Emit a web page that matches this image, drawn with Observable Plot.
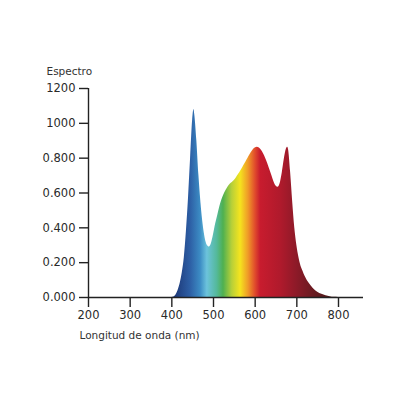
<!DOCTYPE html>
<html>
<head>
<meta charset="utf-8">
<script src="https://cdn.jsdelivr.net/npm/d3@7"></script>
<script src="https://cdn.jsdelivr.net/npm/@observablehq/plot@0.6"></script>
<style>
  html, body { margin: 0; padding: 0; background: #fff; }
  #chart { width: 400px; height: 400px; }
</style>
</head>
<body>
<div id="chart"></div>
<script>
// Data: wavelength (nm) and relative spectral intensity
const wavelengths = [400,405,410,415,420,425,430,435,440,445,450,453,455,460,465,470,475,480,485,490,495,500,505,510,515,520,525,530,535,540,545,550,555,560,565,570,575,580,585,590,595,600,605,610,615,620,625,630,635,640,645,650,655,660,665,670,675,678,680,685,690,695,700,705,710,715,720,730,740,750,760,770,780,790,800];
const intensity  = [0,0.003,0.015,0.04,0.08,0.14,0.23,0.38,0.57,0.80,1.02,1.08,1.05,0.90,0.70,0.54,0.42,0.34,0.30,0.29,0.31,0.36,0.42,0.47,0.52,0.56,0.59,0.615,0.635,0.65,0.66,0.672,0.688,0.706,0.725,0.745,0.766,0.788,0.81,0.83,0.847,0.858,0.862,0.858,0.845,0.825,0.80,0.77,0.735,0.70,0.665,0.64,0.633,0.655,0.715,0.795,0.852,0.862,0.85,0.72,0.55,0.40,0.30,0.23,0.18,0.15,0.12,0.08,0.05,0.03,0.018,0.01,0.005,0.001,0];

const xTicks = [200,300,400,500,600,700,800];
const yTicks = [0,0.2,0.4,0.6,0.8,1.0,1.2];
const yTickLabels = ["0.000","0.200","0.400","0.600","0.800","1000","1200"];

const yTitle = "Espectro";
const xTitle = "Longitud de onda (nm)";

// Gradient stops (wavelength -> colour)
const stopNm = [410,445,469,485,509,524,545,565,584,601,613,661,701,740,781];
const stopColor = ["#1e3a7a","#2d5fa5","#3c8cc4","#6cc3dc","#54b99a","#4fb050","#b8d038","#f5e41e","#ef9a28","#e04a2c","#c81c2e","#b01a2c","#8c1a28","#6a1a20","#4e1a1a"];

const data = wavelengths.map((w, i) => ({nm: w, v: intensity[i]}));

const chart = Plot.plot({
  width: 400,
  height: 400,
  marginLeft: 88,
  marginRight: 37,
  marginTop: 88,
  marginBottom: 103,
  style: {fontFamily: "DejaVu Sans", fontSize: "11px", color: "#2a2a2a", background: "#fff"},
  x: {domain: [200, 860]},
  y: {domain: [0, 1.2]},
  marks: [
    Plot.areaY(data, {x: "nm", y: "v", curve: "monotone-x", fill: "url(#specgrad)"}),
    Plot.axisX({ticks: xTicks, tickSize: 10, tickPadding: 3, label: null, stroke: "#222", strokeWidth: 1.4, fontSize: 11.5}),
    Plot.axisY({ticks: yTicks, tickFormat: (d, i) => yTickLabels[i], tickSize: 9, tickPadding: 4, label: null, stroke: "#222", strokeWidth: 1.4, fontSize: 11.5}),
    Plot.ruleY([0], {stroke: "#222", strokeWidth: 1.4}),
    Plot.ruleX([200], {stroke: "#222", strokeWidth: 1.4}),
    Plot.text([xTitle], {frameAnchor: "bottom-left", dx: -9, dy: 41, textAnchor: "start", fontSize: 10.5, fill: "#333"}),
    Plot.text([yTitle], {frameAnchor: "top-left", dx: -42, dy: -21, textAnchor: "start", fontSize: 10.5, fill: "#333"})
  ]
});

// Gradient definition positioned through the chart's own x scale
const xs = chart.scale("x");
const ns = "http://www.w3.org/2000/svg";
const defs = document.createElementNS(ns, "defs");
const grad = document.createElementNS(ns, "linearGradient");
grad.setAttribute("id", "specgrad");
grad.setAttribute("gradientUnits", "userSpaceOnUse");
const gx1 = xs.apply(stopNm[0]), gx2 = xs.apply(stopNm[stopNm.length - 1]);
grad.setAttribute("x1", gx1);
grad.setAttribute("x2", gx2);
grad.setAttribute("y1", 0);
grad.setAttribute("y2", 0);
stopNm.forEach((nm, i) => {
  const s = document.createElementNS(ns, "stop");
  s.setAttribute("offset", ((xs.apply(nm) - gx1) / (gx2 - gx1)).toFixed(4));
  s.setAttribute("stop-color", stopColor[i]);
  grad.appendChild(s);
});
defs.appendChild(grad);
chart.insertBefore(defs, chart.firstChild);

document.getElementById("chart").appendChild(chart);
</script>
</body>
</html>
